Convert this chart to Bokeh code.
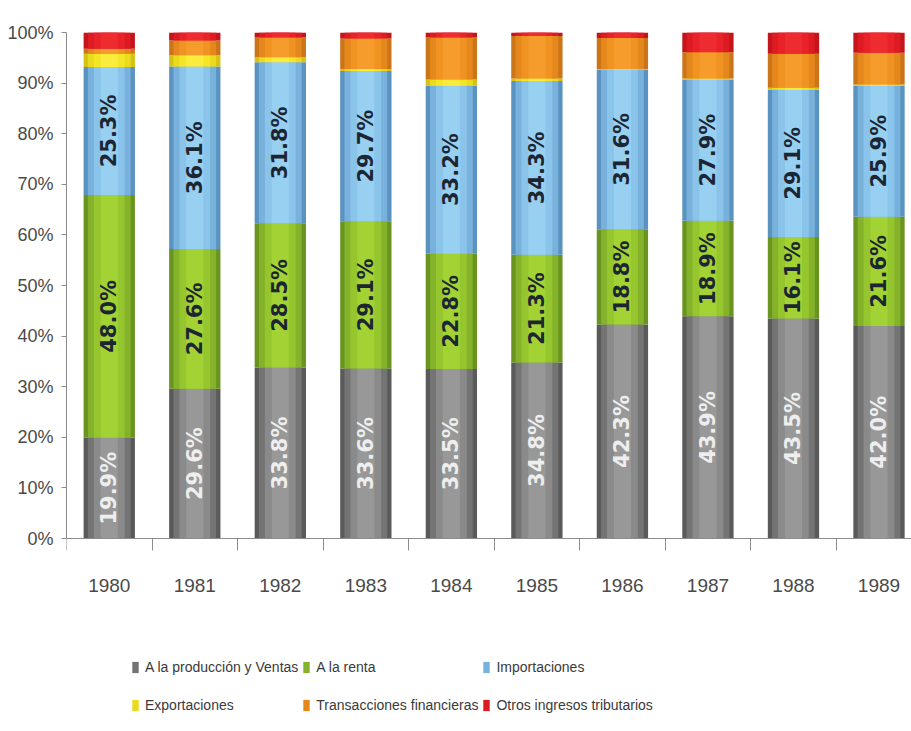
from bokeh.plotting import figure
from bokeh.models import (ColumnDataSource, FixedTicker, PrintfTickFormatter,
                          Legend, LegendItem, Range1d)
from bokeh.core.properties import value
from bokeh.embed import file_html
from bokeh.resources import INLINE

# Composition of tax revenue, share of total (%)
years = ["1980", "1981", "1982", "1983", "1984", "1985", "1986", "1987", "1988", "1989"]
produccion = [19.9, 29.6, 33.8, 33.6, 33.5, 34.8, 42.3, 43.9, 43.5, 42.0]
renta = [48.0, 27.6, 28.5, 29.1, 22.8, 21.3, 18.8, 18.9, 16.1, 21.6]
importaciones = [25.3, 36.1, 31.8, 29.7, 33.2, 34.3, 31.6, 27.9, 29.1, 25.9]
exportaciones = [2.6, 2.2, 1.0, 0.4, 1.2, 0.5, 0.1, 0.2, 0.4, 0.2]
transacciones = [1.0, 2.9, 3.9, 6.0, 8.3, 8.4, 6.1, 5.2, 6.7, 6.3]
otros = [3.2, 1.6, 1.0, 1.2, 1.0, 0.7, 1.1, 3.9, 4.2, 4.0]

series_names = ["A la producción y Ventas", "A la renta", "Importaciones",
                "Exportaciones", "Transacciones financieras", "Otros ingresos tributarios"]
keys = ["prod", "renta", "imp", "exp", "trans", "otros"]

# shades per series, from bar edge to bar centre (gives a rounded look)
shades = {
    "prod":  ["#5a5a5a", "#747474", "#8a8a8a", "#989898"],
    "renta": ["#68941f", "#84b22a", "#96c62e", "#a2d233"],
    "imp":   ["#5a92c0", "#78b2dc", "#8ac4ea", "#98d0f2"],
    "exp":   ["#d6c214", "#eadb1e", "#f4e526", "#f9ec3c"],
    "trans": ["#cc7418", "#e4871c", "#f09322", "#f59c2c"],
    "otros": ["#c4141c", "#dc1b23", "#e82228", "#ee2c30"],
}
layer_widths = [0.6, 0.5, 0.36, 0.2]

xs = list(range(len(years)))
source = ColumnDataSource(dict(x=xs, prod=produccion, renta=renta, imp=importaciones,
                               exp=exportaciones, trans=transacciones, otros=otros))

# the frame reaches the bottom of the canvas; the space below 0% holds the
# category labels and the legend
p = figure(width=911, height=731,
           x_range=Range1d(-0.5, 9.38), y_range=Range1d(-38.14, 100),
           output_backend="svg", toolbar_location=None,
           min_border_left=66, min_border_top=32, min_border_right=0, min_border_bottom=0)
p.outline_line_color = None
p.xgrid.grid_line_color = None
p.ygrid.grid_line_color = None
p.background_fill_color = "white"
p.border_fill_color = "white"

layers = []
for i, w in enumerate(layer_widths):
    rs = p.vbar_stack(keys, x="x", width=w, source=source,
                      color=[shades[k][i] for k in keys], line_color=None)
    layers.append(rs)

# value labels inside the three main segments
lab_font = "DejaVu Sans"
bottoms = [0.0] * len(years)
for vals, col in [(produccion, "#eeeeee"), (renta, "#1c2633"), (importaciones, "#1c2633")]:
    ys = [b + v / 2 for b, v in zip(bottoms, vals)]
    texts = [f"{v:.1f}%" for v in vals]
    p.text(x=xs, y=ys, text=texts, angle=1.5708, text_align="center",
           text_baseline="middle", text_font=value(lab_font), text_font_style="bold",
           text_font_size="21px", text_color=col)
    bottoms = [b + v for b, v in zip(bottoms, vals)]

axis_font = "Liberation Sans"
grey = "#8c8c8c"

xa = p.xaxis[0]
xa.fixed_location = 0
xa.ticker = FixedTicker(ticks=xs, minor_ticks=[i - 0.5 for i in range(len(years) + 1)])
xa.major_label_overrides = {i: y for i, y in enumerate(years)}
xa.major_tick_out = 0
xa.major_tick_in = 0
xa.minor_tick_out = 12
xa.minor_tick_in = 0
xa.axis_line_color = grey
xa.minor_tick_line_color = grey
xa.major_label_standoff = 28
xa.major_label_text_font = axis_font
xa.major_label_text_font_size = "19px"
xa.major_label_text_color = "#4a4a4a"

ya = p.yaxis[0]
ya.bounds = (0, 100)
ya.ticker = FixedTicker(ticks=list(range(0, 101, 10)))
ya.formatter = PrintfTickFormatter(format="%d%%")
ya.major_tick_out = 5
ya.major_tick_in = 0
ya.minor_tick_line_color = None
ya.axis_line_color = grey
ya.major_tick_line_color = grey
ya.major_label_standoff = 8
ya.major_label_text_font = axis_font
ya.major_label_text_font_size = "18px"
ya.major_label_text_color = "#4a4a4a"

# legend under the category labels, two rows of three entries
items = [LegendItem(label=name, renderers=[layers[1][i]]) for i, name in enumerate(series_names)]
legend = Legend(items=items, orientation="horizontal", ncols=3,
                location=(65, 9), margin=0, padding=0, spacing=4,
                glyph_width=8, glyph_height=14, label_standoff=6, label_height=34,
                label_text_font=axis_font, label_text_font_size="14px",
                label_text_color="#3a3a3a", border_line_color=None,
                background_fill_alpha=0)
p.add_layout(legend, "center")

open("out.html", "w").write(file_html(p, INLINE))
